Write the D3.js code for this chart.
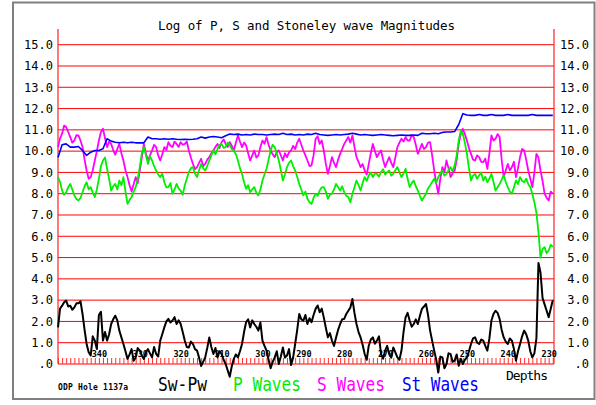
<!DOCTYPE html>
<meta charset="utf-8">
<html>
<head>
<style>
  body { margin: 0; background: #fff; }
  text { font-family: "DejaVu Sans Mono", monospace; }
</style>
</head>
<body>
<div id="chart"></div>
<script src="https://d3js.org/d3.v7.min.js"></script>
<script>

  // depth grids (m): half-metre samples for the noisy logs, one metre for Stoneley
  var depths = d3.range(350, 228.5, -0.5);
  var stDepths = d3.range(350, 228, -1);

  // Sw-Pw difference (black)
  var swpw = [
    1.72, 2.60, 2.74, 2.90, 2.98, 2.70, 2.74, 2.55, 2.66, 2.85,
    2.85, 2.95, 2.35, 1.60, 0.94, 0.55, 0.40, 1.30, 1.10, 0.70,
    2.30, 2.45, 1.10, 1.50, 1.10, 1.40, 1.88, 2.10, 2.27, 2.05,
    1.57, 1.25, 0.94, 0.60, 0.24, 0.45, 0.70, 0.15, 0.31, 0.75,
    0.63, 0.40, 0.24, 0.55, 0.70, 0.50, 0.31, 0.80, 0.47, 0.35,
    1.10, 1.40, 1.72, 2.00, 2.12, 1.95, 2.04, 2.20, 1.88, 2.05,
    1.88, 1.50, 1.10, 0.80, 0.78, 1.05, 0.94, 0.70, 0.63, 0.30,
    -0.10, 0.10, 0.31, 0.75, 1.25, 0.80, 0.47, 0.75, 0.31, 0.60,
    0.47, 0.20, 0.00, -0.30, -0.60, -0.10, 0.24, 0.45, 0.31, 0.60,
    0.94, 1.50, 1.96, 2.10, 1.72, 2.05, 1.88, 1.75, 1.57, 1.95,
    1.10, 0.85, 0.63, 0.20, -0.20, 0.10, 0.31, 0.60, 0.00, 0.35,
    0.78, 0.30, 0.40, 0.70, -0.05, 0.30, 0.94, 1.60, 2.35, 2.10,
    2.04, 2.30, 1.88, 2.15, 1.96, 2.30, 2.59, 2.75, 2.43, 2.60,
    2.19, 1.70, 1.25, 1.45, 1.10, 0.85, 1.25, 1.60, 1.88, 2.10,
    2.12, 2.35, 2.50, 2.65, 3.05, 2.40, 1.88, 1.50, 1.25, 0.90,
    0.47, 0.20, 0.86, 1.15, 1.25, 0.95, 1.10, 1.30, 0.47, 0.25,
    0.63, 0.85, 0.47, 0.30, 0.78, 0.55, 0.31, 0.20, 0.63, 1.50,
    2.19, 2.40, 2.04, 1.75, 1.88, 2.10, 1.88, 2.25, 2.59, 2.70,
    2.82, 2.30, 1.57, 1.10, 0.63, 0.20, -0.40, 0.35, 0.31, -0.20,
    0.00, 0.50, 0.47, 0.10, 0.16, 0.45, -0.08, 0.25, 0.00, 0.20,
    0.31, 0.60, 0.94, 1.20, 1.25, 1.00, 0.94, 1.15, 1.10, 0.85,
    0.63, 1.20, 2.04, 2.35, 2.50, 2.40, 2.12, 1.60, 1.25, 1.05,
    0.94, 1.20, 1.10, 0.70, 0.16, 0.60, 0.94, 1.30, 1.57, 1.40,
    1.10, 0.60, 0.31, 0.50, 1.20, 4.75, 4.30, 3.10, 2.80, 2.50,
    2.20, 2.60, 3.00
  ];

  // P waves (green)
  var pWaves = [
    8.78, 8.55, 8.15, 7.95, 8.07, 8.30, 8.46, 8.20, 7.92, 7.75,
    7.68, 7.80, 8.07, 8.35, 8.54, 8.20, 8.31, 8.05, 7.84, 8.20,
    8.70, 9.30, 9.56, 9.70, 9.17, 8.70, 8.15, 8.35, 8.46, 8.20,
    8.62, 8.40, 8.78, 8.10, 7.52, 7.70, 7.84, 8.10, 8.31, 8.70,
    9.25, 9.90, 10.19, 9.80, 9.40, 9.75, 9.56, 9.30, 9.09, 8.90,
    8.78, 8.95, 8.54, 8.30, 8.31, 8.50, 8.00, 8.20, 8.46, 8.25,
    8.15, 7.95, 8.39, 8.70, 9.01, 9.20, 9.25, 8.95, 8.78, 9.10,
    9.40, 9.20, 9.09, 9.30, 9.56, 9.80, 10.03, 9.85, 10.10, 10.30,
    10.34, 10.15, 10.19, 10.40, 10.27, 10.10, 10.03, 9.85, 9.56, 9.20,
    8.93, 8.55, 8.23, 8.40, 8.07, 8.20, 8.31, 8.05, 7.92, 8.20,
    8.62, 8.90, 9.17, 9.60, 10.03, 10.30, 10.19, 9.90, 9.56, 9.10,
    8.62, 8.90, 9.25, 9.45, 9.56, 9.30, 9.09, 8.80, 8.46, 8.20,
    7.92, 8.10, 7.76, 7.60, 7.52, 7.80, 8.00, 7.90, 8.15, 8.30,
    8.31, 8.10, 7.76, 7.95, 8.00, 8.20, 8.46, 8.30, 8.15, 8.35,
    8.07, 7.90, 7.84, 7.60, 8.00, 8.30, 8.62, 8.40, 8.15, 8.50,
    8.78, 8.60, 8.86, 9.00, 8.78, 8.95, 8.93, 8.80, 9.01, 9.15,
    8.90, 9.00, 9.09, 8.85, 8.93, 9.10, 9.25, 9.00, 8.78, 8.95,
    9.17, 8.70, 8.31, 8.50, 8.62, 8.35, 8.15, 7.90, 7.68, 7.85,
    8.00, 8.25, 8.39, 8.55, 8.70, 8.50, 8.78, 8.95, 9.09, 8.85,
    8.93, 9.10, 9.25, 9.05, 9.33, 9.80, 10.50, 10.95, 10.82, 10.40,
    9.87, 9.20, 8.62, 8.85, 8.93, 8.70, 8.86, 9.00, 8.62, 8.80,
    8.54, 8.70, 8.93, 8.55, 8.15, 8.30, 8.46, 8.65, 8.86, 8.55,
    8.31, 8.10, 8.00, 8.30, 8.62, 8.45, 8.78, 8.60, 8.54, 8.70,
    8.46, 8.30, 8.00, 7.60, 7.10, 6.20, 5.00, 5.40, 5.49, 5.20,
    5.33, 5.60, 5.50
  ];

  // S waves (magenta)
  var sWaves = [
    10.19, 10.60, 10.82, 11.20, 11.13, 10.90, 10.66, 10.40, 10.50, 10.75,
    10.74, 10.50, 10.19, 9.60, 9.09, 8.70, 8.78, 9.10, 9.56, 10.00,
    10.50, 10.90, 11.05, 10.60, 10.19, 10.45, 10.34, 10.05, 9.83, 10.10,
    10.34, 9.90, 9.56, 9.10, 8.78, 8.40, 8.10, 8.45, 8.78, 8.50,
    9.09, 9.70, 10.34, 9.90, 9.56, 9.80, 10.03, 10.30, 10.19, 9.80,
    9.56, 9.85, 10.19, 10.05, 10.42, 10.25, 10.19, 10.45, 10.34, 10.20,
    10.42, 10.30, 10.34, 10.45, 10.03, 9.70, 9.40, 9.15, 9.25, 9.45,
    9.64, 9.30, 9.40, 9.60, 9.72, 9.90, 10.03, 10.20, 10.34, 10.15,
    10.42, 10.55, 10.34, 10.20, 10.42, 10.25, 10.03, 10.40, 10.74, 10.45,
    10.19, 10.40, 10.27, 9.90, 9.56, 9.80, 10.03, 9.70, 9.80, 10.20,
    10.50, 10.35, 10.66, 10.30, 10.03, 9.85, 9.72, 9.95, 10.03, 9.80,
    9.56, 9.90, 9.72, 9.95, 10.03, 10.25, 10.10, 10.40, 10.58, 10.30,
    10.03, 9.80, 9.56, 9.30, 9.33, 9.80, 10.58, 10.70, 10.34, 10.50,
    10.03, 9.40, 8.93, 9.30, 9.72, 9.45, 9.25, 9.60, 9.87, 10.10,
    10.34, 10.50, 10.66, 10.40, 10.74, 10.20, 9.72, 9.50, 9.25, 9.40,
    9.09, 8.90, 9.40, 9.90, 10.34, 10.00, 9.72, 9.90, 10.03, 9.60,
    9.25, 9.50, 9.72, 9.45, 9.25, 9.70, 10.19, 10.40, 10.58, 10.45,
    10.66, 10.50, 10.50, 10.75, 10.66, 10.30, 9.87, 10.10, 10.34, 10.10,
    10.19, 10.40, 10.42, 9.80, 9.09, 8.50, 8.00, 8.70, 9.25, 9.00,
    9.56, 9.20, 8.78, 8.95, 9.09, 9.60, 10.34, 10.80, 11.05, 10.80,
    10.50, 10.15, 9.87, 9.60, 9.56, 9.80, 9.72, 9.50, 9.48, 9.65,
    9.17, 9.90, 10.74, 10.50, 10.58, 10.80, 10.66, 9.60, 8.78, 9.10,
    9.40, 9.10, 9.25, 9.50, 8.78, 9.20, 9.72, 10.10, 10.03, 9.60,
    9.09, 8.70, 8.31, 9.00, 9.87, 9.70, 9.09, 8.60, 8.00, 7.80,
    7.68, 8.10, 8.00
  ];

  // Stoneley waves (blue)
  var stWaves = [
    9.70, 10.30, 10.34, 10.19, 10.19, 10.22, 10.03, 9.80, 9.95, 10.03,
    10.03, 10.11, 10.58, 10.47, 10.42, 10.39, 10.42, 10.39, 10.42, 10.39,
    10.39, 10.39, 10.66, 10.58, 10.58, 10.56, 10.58, 10.56, 10.58, 10.56,
    10.55, 10.56, 10.55, 10.56, 10.58, 10.66, 10.61, 10.66, 10.69, 10.66,
    10.63, 10.72, 10.80, 10.78, 10.80, 10.76, 10.78, 10.76, 10.80, 10.78,
    10.78, 10.76, 10.78, 10.80, 10.78, 10.84, 10.78, 10.80, 10.76, 10.78,
    10.76, 10.80, 10.78, 10.84, 10.78, 10.76, 10.74, 10.76, 10.78, 10.76,
    10.78, 10.80, 10.84, 10.80, 10.76, 10.78, 10.76, 10.74, 10.76, 10.78,
    10.76, 10.74, 10.72, 10.74, 10.76, 10.74, 10.74, 10.76, 10.74, 10.84,
    10.82, 10.82, 10.84, 10.82, 10.88, 10.90, 10.90, 10.92, 11.25, 11.76,
    11.70, 11.68, 11.68, 11.72, 11.68, 11.68, 11.72, 11.68, 11.68, 11.68,
    11.72, 11.68, 11.68, 11.68, 11.68, 11.68, 11.72, 11.68, 11.68, 11.68,
    11.68, 11.68
  ];

  var yTicks = d3.range(0, 16);
  var depthLabels = [340, 330, 320, 310, 300, 290, 280, 270, 260, 250, 240, 230];
  var hatchDepths = d3.range(350, 228, -1);
  var seriesNames = ["Sw-Pw", "P Waves", "S Waves", "St Waves"];

  var W = 596, H = 405;
  var plotLeft = 58, plotRight = 554, plotTop = 29, plotBottom = 364;

  var svg = d3.select("#chart").append("svg")
      .attr("width", W)
      .attr("height", H);

  // outer frame
  svg.append("rect")
    .attr("x", 13).attr("y", 2.5)
    .attr("width", 581.5).attr("height", 396.5)
    .attr("fill", "none")
    .attr("stroke", "#808080")
    .attr("stroke-width", 2);

  var x = d3.scaleLinear().domain([350, 228.7]).range([plotLeft, plotRight]);
  var y = d3.scaleLinear().domain([0, 15]).range([plotBottom, 44.7]);

  // title
  svg.append("text")
    .attr("x", 158).attr("y", 30)
    .attr("font-size", 12.5)
    .attr("textLength", 297)
    .text("Log of P, S and Stoneley wave Magnitudes");

  // horizontal grid
  svg.append("g").selectAll("line")
    .data(yTicks)
    .enter().append("line")
      .attr("x1", plotLeft).attr("x2", plotRight)
      .attr("y1", function(d) { return y(d); })
      .attr("y2", function(d) { return y(d); })
      .attr("stroke", "#ff0000")
      .attr("stroke-width", 1);

  // side axis lines
  [plotLeft, plotRight].forEach(function(px) {
    svg.append("line")
      .attr("x1", px).attr("x2", px)
      .attr("y1", plotTop).attr("y2", plotBottom)
      .attr("stroke", "#ff2020")
      .attr("stroke-width", 1.2);
  });

  var fmt = function(d) { return d === 0 ? ".0" : d.toFixed(1); };

  // left + right value labels (both right aligned)
  [53, 589].forEach(function(px) {
    var g = svg.append("g")
      .attr("transform", "translate(" + px + ",0)")
      .call(d3.axisLeft(y).tickValues(yTicks).tickFormat(fmt).tickSize(0).tickPadding(0));
    g.select(".domain").remove();
    g.attr("font-family", "DejaVu Sans Mono, monospace").attr("font-size", 12);
    g.selectAll("text").attr("fill", "#000");
  });

  // depth hatch ticks
  var hatch = svg.append("g")
    .attr("transform", "translate(0," + plotBottom + ")")
    .call(d3.axisBottom(x).tickValues(hatchDepths).tickSize(-6).tickFormat(""));
  hatch.select(".domain").remove();
  hatch.selectAll("line").attr("stroke", "#ff3030").attr("stroke-width", 1);

  // depth labels
  var dl = svg.append("g")
    .attr("transform", "translate(0,357)")
    .call(d3.axisTop(x).tickValues(depthLabels).tickSize(0).tickPadding(0));
  dl.select(".domain").remove();
  dl.attr("font-family", "DejaVu Sans Mono, monospace").attr("font-size", 8.5).attr("font-weight", "bold");
  dl.selectAll("text").attr("fill", "#000");

  // curves
  function drawSeries(grid, values, color, w) {
    var line = d3.line()
      .x(function(d, i) { return x(grid[i]); })
      .y(function(d) { return y(d); });
    svg.append("path")
      .datum(values)
      .attr("fill", "none")
      .attr("stroke", color)
      .attr("stroke-width", w)
      .attr("stroke-linejoin", "round")
      .attr("d", line);
  }

  drawSeries(depths, swpw, "#000000", 2);
  drawSeries(depths, sWaves, "#ff00ff", 1.8);
  drawSeries(depths, pWaves, "#00ee00", 1.8);
  drawSeries(stDepths, stWaves, "#0000ff", 1.6);

  // legend
  svg.append("text")
    .attr("x", 58).attr("y", 390)
    .attr("font-size", 8).attr("font-weight", "bold")
    .attr("textLength", 70)
    .text("ODP Hole 1137a");

  var legendX = [158, 233, 317, 402];
  var legendW = [49, 68, 68, 77];
  var legendC = ["#000000", "#00ee00", "#ff00ff", "#0000ff"];
  svg.append("g").selectAll("text")
    .data(seriesNames)
    .enter().append("text")
      .attr("x", function(d, i) { return legendX[i]; })
      .attr("y", 390.5)
      .attr("font-family", "Liberation Sans, sans-serif")
      .attr("font-size", 19)
      .attr("textLength", function(d, i) { return legendW[i]; })
      .attr("lengthAdjust", "spacingAndGlyphs")
      .attr("fill", function(d, i) { return legendC[i]; })
      .text(function(d) { return d; });

  svg.append("text")
    .attr("x", 506).attr("y", 380)
    .attr("font-size", 13)
    .attr("textLength", 42)
    .text("Depths");

</script>
</body>
</html>
